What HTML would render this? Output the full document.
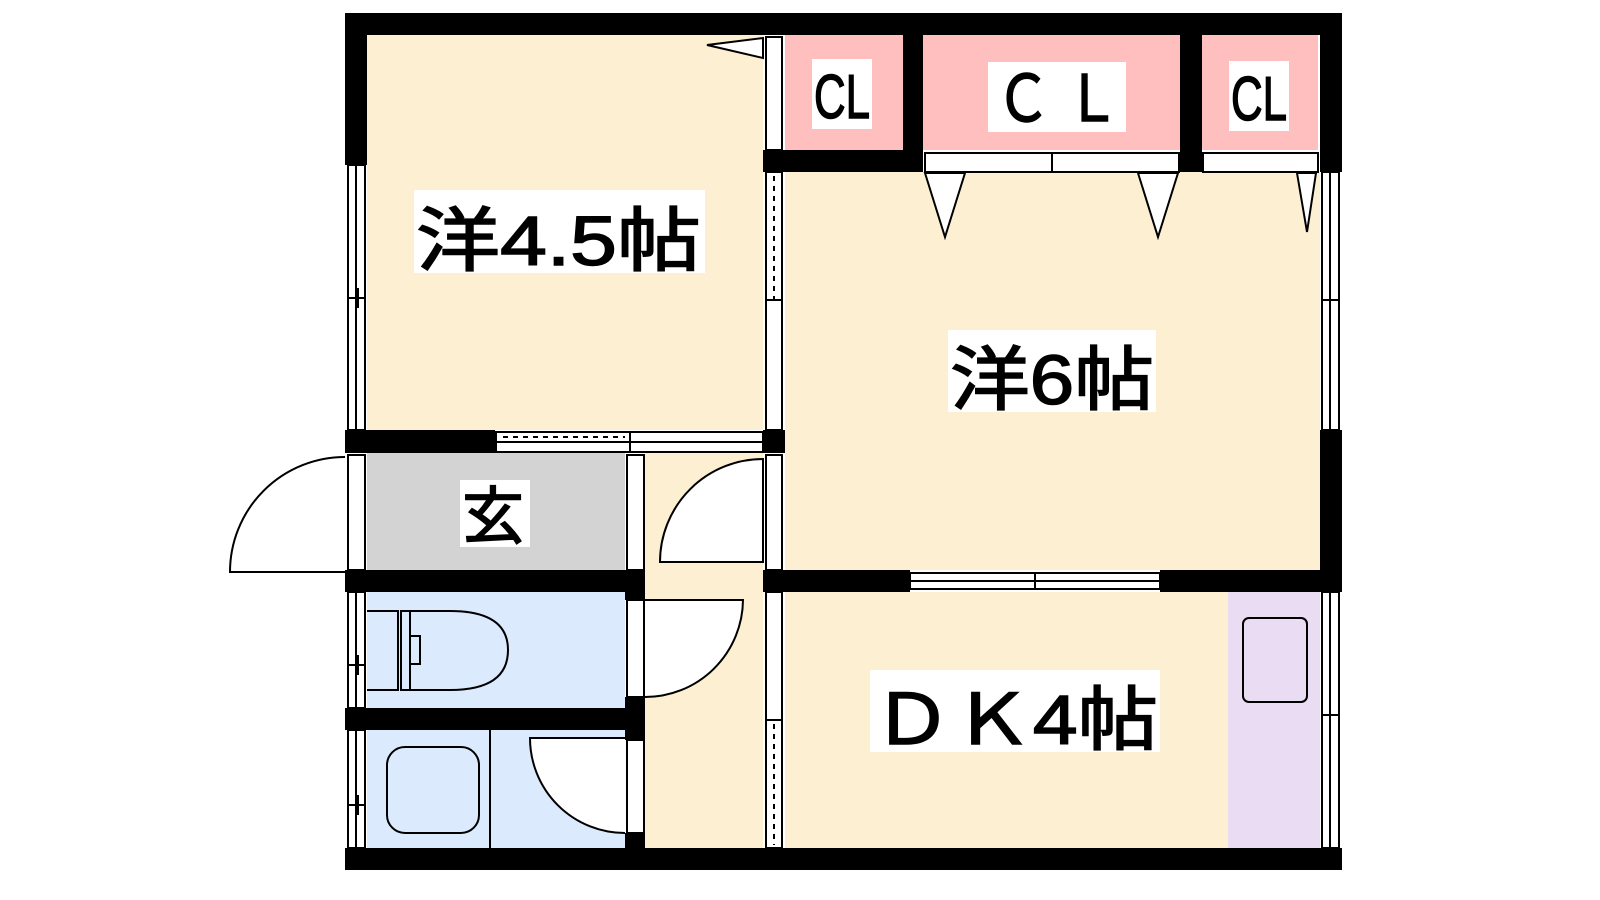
<!DOCTYPE html>
<html><head><meta charset="utf-8"><style>html,body{margin:0;padding:0;background:#fff}svg{display:block}</style></head>
<body>
<svg width="1600" height="900" viewBox="0 0 1600 900" xmlns="http://www.w3.org/2000/svg" font-family="'Liberation Sans','Noto Sans CJK JP',sans-serif">
<rect x="367" y="35" width="396" height="395" fill="#fdf0d2"/>
<rect x="785" y="172" width="535" height="398" fill="#fdf0d2"/>
<rect x="785" y="592" width="443" height="256" fill="#fdf0d2"/>
<rect x="1228" y="592" width="92" height="256" fill="#e9dcf3"/>
<rect x="645" y="453" width="118" height="395" fill="#fdf0d2"/>
<rect x="367" y="453" width="258" height="117" fill="#d3d3d3"/>
<rect x="367" y="592" width="258" height="116" fill="#dbeafd"/>
<rect x="367" y="730" width="258" height="118" fill="#dbeafd"/>
<rect x="785" y="35" width="118" height="115" fill="#ffbfbf"/>
<rect x="923" y="35" width="257" height="115" fill="#ffbfbf"/>
<rect x="1202" y="35" width="116" height="115" fill="#ffbfbf"/>

<g fill="#000">
<rect x="345" y="13" width="997" height="22"/>
<rect x="345" y="848" width="997" height="22"/>
<rect x="345" y="13" width="22" height="152"/>
<rect x="1320" y="13" width="22" height="159"/>
<rect x="1320" y="430" width="22" height="160"/>
<rect x="345" y="430" width="150" height="23"/>
<rect x="345" y="570" width="300" height="22"/>
<rect x="345" y="708" width="300" height="22"/>
<rect x="763" y="150" width="160" height="22"/>
<rect x="903" y="13" width="20" height="159"/>
<rect x="1180" y="13" width="22" height="159"/>
<rect x="763" y="430" width="22" height="23"/>
<rect x="763" y="570" width="147" height="22"/>
<rect x="1160" y="570" width="182" height="22"/>
<rect x="625" y="570" width="20" height="30"/>
<rect x="625" y="697" width="20" height="43"/>
<rect x="625" y="833" width="20" height="15"/>
</g>

<g fill="#fff" stroke="#000" stroke-width="2">
<rect x="348" y="165" width="17" height="265"/>
<rect x="348" y="455" width="17" height="115"/>
<rect x="348" y="592" width="17" height="116"/>
<rect x="348" y="730" width="17" height="118"/>
<rect x="1322" y="172" width="17" height="258"/>
<rect x="1322" y="592" width="17" height="256"/>
<rect x="766" y="37" width="16" height="113"/>
<rect x="766" y="172" width="16" height="128"/>
<rect x="766" y="300" width="16" height="130"/>
<rect x="766" y="455" width="16" height="115"/>
<rect x="766" y="592" width="16" height="128"/>
<rect x="766" y="720" width="16" height="128"/>
<rect x="627" y="455" width="17" height="115"/>
<rect x="627" y="600" width="17" height="97"/>
<rect x="627" y="740" width="17" height="93"/>
<rect x="925" y="153" width="127" height="19"/>
<rect x="1052" y="153" width="127" height="19"/>
<rect x="1203" y="153" width="115" height="19"/>
<rect x="496" y="432" width="134" height="10"/>
<rect x="496" y="442" width="134" height="10"/>
<rect x="630" y="432" width="133" height="10"/>
<rect x="630" y="442" width="133" height="10"/>
<rect x="910" y="573" width="125" height="8"/>
<rect x="910" y="581" width="125" height="8"/>
<rect x="1035" y="573" width="125" height="8"/>
<rect x="1035" y="581" width="125" height="8"/>
</g>
<g stroke="#000" stroke-width="2" stroke-dasharray="5,5">
<line x1="774" y1="176" x2="774" y2="300"/>
<line x1="774" y1="724" x2="774" y2="845"/>
<line x1="503" y1="437" x2="625" y2="437"/>
</g>
<g stroke="#000" stroke-width="2">
<line x1="356" y1="165" x2="356" y2="430"/>
<line x1="356" y1="592" x2="356" y2="708"/>
<line x1="356" y1="730" x2="356" y2="848"/>
<line x1="1330" y1="172" x2="1330" y2="430"/>
<line x1="1330" y1="592" x2="1330" y2="848"/>
<line x1="349" y1="298" x2="365" y2="298"/><line x1="358" y1="288" x2="358" y2="308"/>
<line x1="349" y1="665" x2="365" y2="665"/><line x1="358" y1="655" x2="358" y2="675"/>
<line x1="349" y1="805" x2="365" y2="805"/><line x1="358" y1="795" x2="358" y2="815"/>
<line x1="1322" y1="300" x2="1338" y2="300"/><line x1="1330" y1="290" x2="1330" y2="310"/>
<line x1="1322" y1="715" x2="1338" y2="715"/><line x1="1330" y1="705" x2="1330" y2="725"/>
</g>

<g fill="#fff" stroke="#000" stroke-width="2">
<path d="M345 457 A115 115 0 0 0 230 572 L345 572"/>
<path d="M763 459 A103 103 0 0 0 660 562 L763 562 Z"/>
<path d="M645 600 L743 600 A98 98 0 0 1 645 697"/>
<path d="M625 738 L530 738 A95 95 0 0 0 625 833"/>
<polygon points="925,173 965,173 945,237"/>
<polygon points="1138,173 1178,173 1158,237"/>
<polygon points="1297,173 1316,173 1307,232"/>
<polygon points="763,38 763,58 707,45"/>
</g>
<g fill="none" stroke="#000" stroke-width="2">
<line x1="490" y1="730" x2="490" y2="848"/>
<rect x="387" y="747" width="92" height="86" rx="18"/>
<path d="M367 611 H398 V690 H367"/>
<path d="M401 611 H450 Q508 611 508 650 Q508 690 450 690 H401 Z"/>
<path d="M410 611 V690 M410 636 H420 V664 H410"/>
<rect x="1243" y="618" width="64" height="84" rx="6"/>
</g>

<g fill="#fff">
<rect x="414" y="190" width="291" height="83"/>
<rect x="948" y="330" width="208" height="82"/>
<rect x="870" y="670" width="290" height="82"/>
<rect x="460" y="480" width="70" height="67"/>
<rect x="812" y="59" width="60" height="70"/>
<rect x="988" y="62" width="138" height="70"/>
<rect x="1229" y="61" width="60" height="70"/>
</g>
<g fill="#000" stroke="#000" stroke-width="1.5" font-size="70">
<text x="416" y="265" textLength="285" lengthAdjust="spacingAndGlyphs">洋4.5帖</text>
<text x="950" y="404" textLength="204" lengthAdjust="spacingAndGlyphs">洋6帖</text>
<text x="872" y="744" textLength="286" lengthAdjust="spacingAndGlyphs">ＤＫ4帖</text>
<text x="462" y="538" font-size="62">玄</text>
<text x="814" y="118" font-size="62" textLength="56" lengthAdjust="spacingAndGlyphs">CL</text>
<text x="996" y="121" font-size="64" textLength="124" lengthAdjust="spacingAndGlyphs">Ｃ Ｌ</text>
<text x="1231" y="120" font-size="62" textLength="56" lengthAdjust="spacingAndGlyphs">CL</text>
</g>
</svg>
</body></html>
